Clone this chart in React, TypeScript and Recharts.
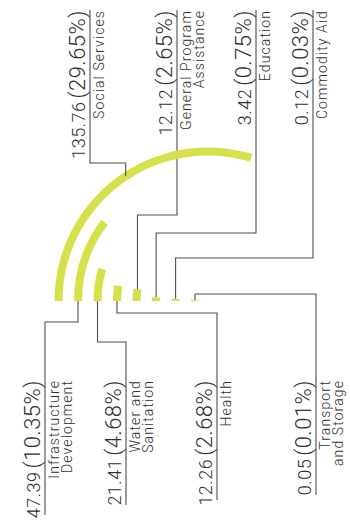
import React from "react"
import { RadialBarChart, RadialBar, PolarAngleAxis, Sector } from "recharts"

// inner ring first, outer ring last
const categories = [
  "Transport and Storage",
  "Commodity Aid",
  "Education",
  "General Program Assistance",
  "Health",
  "Water and Sanitation",
  "Infrastructure Development",
  "Social Services",
]
const labelLines = [
  ["Transport", "and Storage"],
  ["Commodity Aid"],
  ["Education"],
  ["General Program", "Assistance"],
  ["Health"],
  ["Water and", "Sanitation"],
  ["Infrastructure", "Development"],
  ["Social Services"],
]
const values = [0.05, 0.12, 3.42, 12.12, 12.26, 21.41, 47.39, 135.76]
const shares = ["0.01%", "0.03%", "0.75%", "2.65%", "2.68%", "4.68%", "10.35%", "29.65%"]

// leader line layout: where on the bar it starts (0 = start, 1 = tip), elbow, label column
const leaders = [
  { at: 1, elbowY: 294, labelX: 316, side: "bottom", tailY: 495 },
  { at: 1, elbowY: 258, labelX: 313, side: "top", tailY: 10 },
  { at: 1, elbowY: 233, labelX: 256, side: "top", tailY: 10 },
  { at: 1, elbowY: 215, labelX: 177, side: "top", tailY: 10 },
  { at: 0, elbowY: 313, labelX: 217, side: "bottom", tailY: 500 },
  { at: 0, elbowY: 342, labelX: 126, side: "bottom", tailY: 505 },
  { at: 0, elbowY: 322, labelX: 45, side: "bottom", tailY: 515 },
  { at: 0.53, elbowY: 163, labelX: 90, side: "top", tailY: 10 },
]

const data = categories.map((name, i) => ({ name, value: values[i] }))
const maxValue = Math.max(...values)

const GREEN = "#d5e04b"
const LINE = "#4d4d4d"
const TEXT = "#2e2e2e"
const FONT = "Roboto, sans-serif"

function BarWithLeader(props: any) {
  const { cx, cy, innerRadius, outerRadius, startAngle, endAngle } = props
  const name = props.payload?.name ?? props.name
  const i = categories.indexOf(name)
  const lay = leaders[i]
  const r = (innerRadius + outerRadius) / 2
  const ang = startAngle + lay.at * (endAngle - startAngle)
  const rad = (-ang * Math.PI) / 180
  const ax = cx + r * Math.cos(rad)
  const ay = cy + r * Math.sin(rad)
  const anchorY = lay.side === "top" ? 10 : 380
  const x = lay.labelX

  return (
    <g>
      <Sector
        cx={cx}
        cy={cy}
        innerRadius={innerRadius}
        outerRadius={outerRadius}
        startAngle={startAngle}
        endAngle={endAngle}
        fill={GREEN}
      />
      <path
        d={`M${ax},${ay} V${lay.elbowY} H${x} V${lay.tailY}`}
        fill="none"
        stroke={LINE}
        strokeWidth={1.1}
      />
      <text
        transform={`translate(${x - 5},${anchorY}) rotate(-90)`}
        textAnchor="end"
        fill={TEXT}
        fontFamily={FONT}
        fontWeight={300}
        letterSpacing={0.5}
      >
        <tspan fontSize={18}>{values[i].toFixed(2)}</tspan>
        <tspan fontSize={22} dx={3}>({shares[i]})</tspan>
      </text>
      {labelLines[i].map((line, k) => (
        <text
          key={line}
          transform={`translate(${x + 14 + k * 13},${anchorY}) rotate(-90)`}
          textAnchor="end"
          fill={TEXT}
          fontFamily={FONT}
          fontWeight={300}
          fontSize={14}
          letterSpacing={1.1}
        >
          {line}
        </text>
      ))}
    </g>
  )
}

export default function App() {
  return (
    <div style={{ position: "absolute", left: 0, top: 0, width: 350, height: 522, background: "#fff" }}>
      <RadialBarChart
        width={350}
        height={522}
        cx={208}
        cy={301}
        innerRadius={3}
        outerRadius={159}
        barSize={8}
        startAngle={180}
        endAngle={73.2}
        data={data}
        margin={{ top: 0, right: 0, bottom: 0, left: 0 }}
      >
        <PolarAngleAxis type="number" domain={[0, maxValue]} tick={false} axisLine={false} />
        <RadialBar
          dataKey="value"
          minPointSize={4}
          shape={BarWithLeader}
          isAnimationActive={false}
        />
      </RadialBarChart>
    </div>
  )
}
